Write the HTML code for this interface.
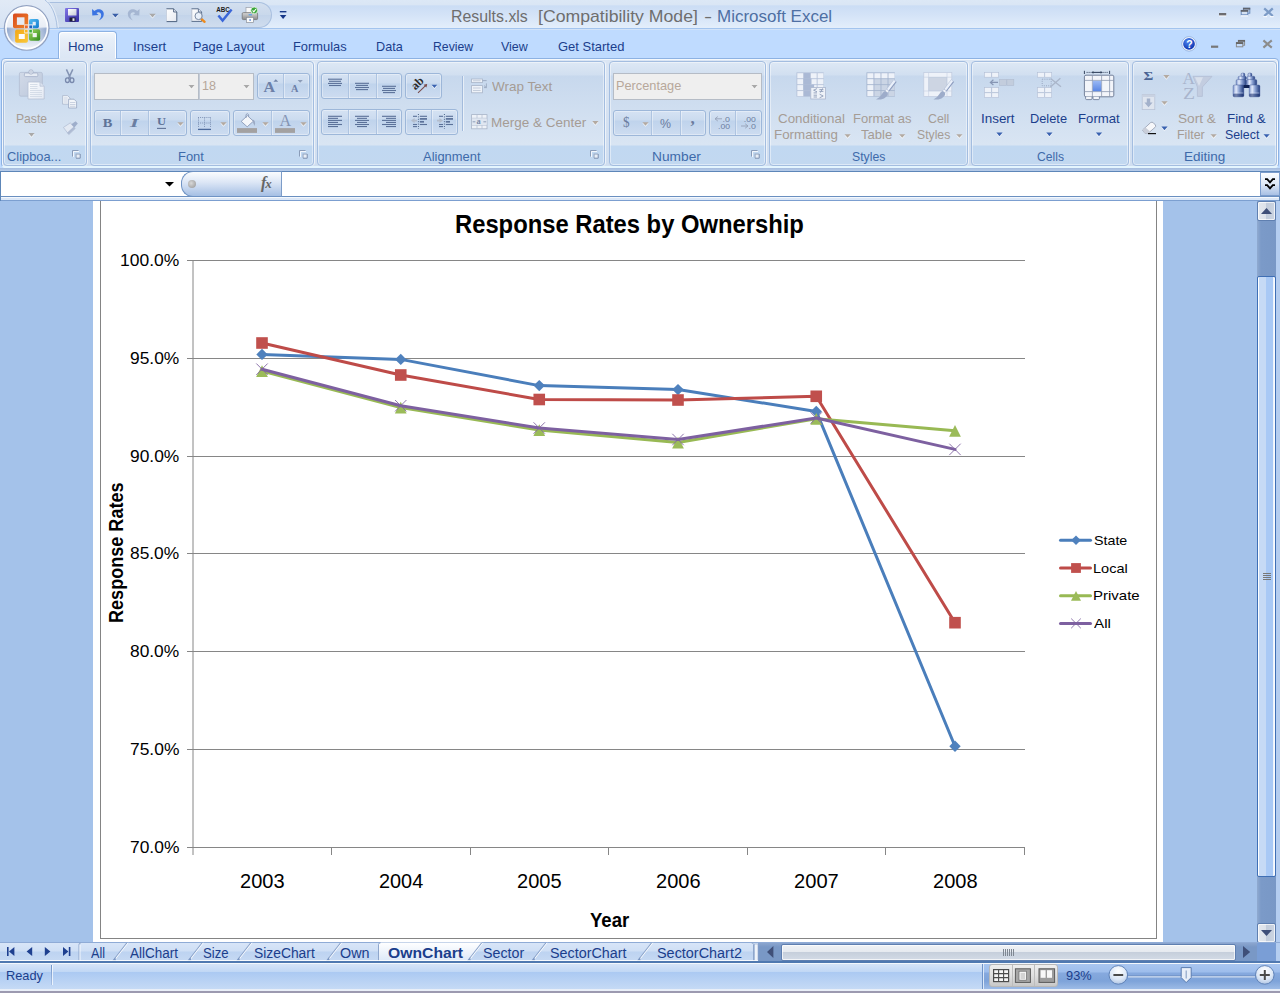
<!DOCTYPE html>
<html><head><meta charset="utf-8"><title>Results.xls [Compatibility Mode] - Microsoft Excel</title>
<style>
*{box-sizing:border-box;margin:0;padding:0}
html,body{width:1280px;height:993px;overflow:hidden}
body{position:relative;background:#bfdbff;font-family:"Liberation Sans",sans-serif;font-size:12px;color:#15428b}
.a{position:absolute}
.t{position:absolute;white-space:nowrap;line-height:1}
svg{position:absolute;overflow:visible}
.grp{position:absolute;top:61px;height:105px;border:1px solid #a3bde0;border-radius:4px;background:linear-gradient(#dde8f5 0,#d1dff0 13px,#c7d8ed 14px,#d9e5f3 83px,#c1d8f1 84px,#c2d8f0 102px);box-shadow:inset 0 0 0 1px rgba(255,255,255,.45), 1px 0 0 rgba(255,255,255,.6)}
.bg{position:absolute;border:1px solid #9db7d9;border-radius:3px;background:linear-gradient(#d5e2f3 0,#cbdbef 9px,#bfd3ec 10px,#cddcf0 100%);box-shadow:inset 0 0 0 1px rgba(255,255,255,.35)}
.dv{position:absolute;width:1px;background:#aec4e1;box-shadow:1px 0 0 rgba(255,255,255,.4)}
.box{position:absolute;border:1px solid #b5bcc6;background:#efefef}
.dl{position:absolute;width:8px;height:8px}
</style></head><body>

<div class="a" style="left:0;top:0;width:1280px;height:29px;background:linear-gradient(#dce8f6 0,#dae6f5 4.5px,#cbddf5 6px,#d4e3f7 15px,#e3eefb 28px)"></div>
<div class="a" style="left:0;top:28px;width:1280px;height:1px;background:#a3c4ee"></div>
<div class="a" style="left:0;top:29px;width:1280px;height:1px;background:#d2e3f9"></div>
<div class="a" style="left:38px;top:2px;width:234px;height:26px;border:1px solid #a8bfdf;border-left:none;border-radius:0 13px 13px 0;background:linear-gradient(#d3dfef 0,#c9d8eb 50%,#c3d4ea 51%,#d0ddee 100%)"></div>
<svg style="left:0;top:0" width="60" height="29" viewBox="0 0 60 29"><defs><linearGradient id="tl" x1="0" y1="0" x2="0" y2="1"><stop offset="0" stop-color="#e1eaf6"/><stop offset="1" stop-color="#d6e3f4"/></linearGradient></defs><path d="M0 0 H45 C50.5 3.5 56 13 57.2 28 H0 Z" fill="url(#tl)"/><path d="M45 0 C50.5 3.5 56 13 57.2 28" fill="none" stroke="#a9c0e0" stroke-width="1"/><path d="M46.2 0 C51.7 3.5 57.2 13 58.4 28" fill="none" stroke="#eef4fb" stroke-width="1" opacity=".8"/></svg>
<svg style="left:2px;top:3px" width="50" height="50" viewBox="0 0 50 50">
<defs><radialGradient id="ob" cx="50%" cy="35%" r="65%"><stop offset="0" stop-color="#ffffff"/><stop offset=".55" stop-color="#eef2f8"/><stop offset="1" stop-color="#c3cfe2"/></radialGradient>
<linearGradient id="ob2" x1="0" y1="0" x2="0" y2="1"><stop offset="0" stop-color="#fdfdfe"/><stop offset=".5" stop-color="#e8edf5"/><stop offset=".52" stop-color="#b9c7dd"/><stop offset="1" stop-color="#f4f7fb"/></linearGradient>
<linearGradient id="o1" x1="0" y1="0" x2="1" y2="1"><stop offset="0" stop-color="#d8481c"/><stop offset="1" stop-color="#f0862a"/></linearGradient>
<linearGradient id="o2" x1="0" y1="0" x2="1" y2="1"><stop offset="0" stop-color="#f3a716"/><stop offset="1" stop-color="#f9c83a"/></linearGradient>
</defs>
<circle cx="24.7" cy="24.9" r="22.3" fill="url(#ob2)" stroke="#93a3c2" stroke-width="1.3"/>
<clipPath id="obc"><rect x="0" y="24.4" width="50" height="14"/></clipPath>
<linearGradient id="ob3" x1="0" y1="0" x2="1" y2="0"><stop offset="0" stop-color="#7f9ac8" stop-opacity=".75"/><stop offset=".3" stop-color="#b9c7dd" stop-opacity=".1"/><stop offset=".7" stop-color="#b9c7dd" stop-opacity=".1"/><stop offset="1" stop-color="#7f9ac8" stop-opacity=".75"/></linearGradient>
<circle cx="24.7" cy="24.9" r="20.4" fill="url(#ob3)" clip-path="url(#obc)"/>
<circle cx="24.7" cy="24.9" r="20.7" fill="none" stroke="#ffffff" stroke-width="1.6" opacity=".9"/>
<linearGradient id="o3" x1="0" y1="0" x2="1" y2="1"><stop offset="0" stop-color="#56c0f4"/><stop offset="1" stop-color="#0f78cc"/></linearGradient>
<linearGradient id="o4" x1="0" y1="0" x2="1" y2="1"><stop offset="0" stop-color="#a0d860"/><stop offset="1" stop-color="#2f8a1c"/></linearGradient>
<rect x="11" y="10.4" width="15.2" height="14.9" rx="1.8" fill="url(#o1)"/><rect x="14.9" y="14.3" width="7.6" height="7.6" fill="#e6eaf2"/>
<rect x="27" y="15.9" width="9.9" height="9.4" rx="1.8" fill="url(#o3)"/><rect x="30.6" y="18.8" width="3.2" height="3.6" fill="#e4edf6"/>
<rect x="13.1" y="26.6" width="12.8" height="13.1" rx="1.8" fill="url(#o2)"/><rect x="16.8" y="31" width="6" height="5" fill="#fcfcfc"/>
<rect x="27" y="26.3" width="11.2" height="11.5" rx="1.8" fill="url(#o4)"/><rect x="30.6" y="30" width="4.2" height="4.2" fill="#f0f4ee"/>
<rect x="22.3" y="21.4" width="4" height="4" fill="#eef0f6"/><rect x="26.8" y="21.4" width="4" height="4" fill="#eef0f6"/><rect x="22.3" y="26.4" width="4" height="4" fill="#f4f4f0"/><rect x="26.8" y="26.4" width="4" height="4" fill="#f0f4ee"/>
<rect x="23" y="22.4" width="2.8" height="2.8" fill="#ee6c28"/><rect x="27.3" y="22.4" width="2.8" height="2.8" fill="#1c62c0"/><rect x="23" y="26.9" width="2.6" height="2.6" fill="#f8b424"/><rect x="27.3" y="26.9" width="2.6" height="2.6" fill="#3cae3c"/>
</svg>
<span class="t" style="left:451.23px;top:9.05px;font-size:16.6px;color:#6e6e6e;transform:scaleX(0.9572);transform-origin:0 0;">Results.xls</span>
<span class="t" style="left:538.16px;top:9.05px;font-size:16.6px;color:#6e6e6e;transform:scaleX(1.0637);transform-origin:0 0;">[Compatibility Mode]</span>
<span class="t" style="left:703.90px;top:9.05px;font-size:16.6px;color:#6e6e6e;transform:scaleX(1.4753);transform-origin:0 0;">-</span>
<span class="t" style="left:716.64px;top:9.05px;font-size:16.6px;color:#4e6fa3;transform:scaleX(1.0231);transform-origin:0 0;">Microsoft Excel</span>
<svg style="left:0;top:0" width="1280" height="60" viewBox="0 0 1280 60">
<defs><linearGradient id="sv" x1="0" y1="0" x2="1" y2="1"><stop offset="0" stop-color="#8478e8"/><stop offset="1" stop-color="#2f2a9c"/></linearGradient>
<linearGradient id="wl" x1="0" y1="0" x2="1" y2="1"><stop offset="0" stop-color="#ffffff"/><stop offset="1" stop-color="#c8ccd8"/></linearGradient>
<linearGradient id="pg" x1="0" y1="0" x2="1" y2="1"><stop offset="0" stop-color="#ffffff"/><stop offset="1" stop-color="#e4e8f0"/></linearGradient>
<linearGradient id="pr" x1="0" y1="0" x2="0" y2="1"><stop offset="0" stop-color="#d8d8d8"/><stop offset="1" stop-color="#8a8a8a"/></linearGradient>
<radialGradient id="hp" cx="40%" cy="30%" r="70%"><stop offset="0" stop-color="#4f86f0"/><stop offset="1" stop-color="#0c34b0"/></radialGradient>
</defs>
<rect x="65" y="8" width="14" height="14" rx="1" fill="url(#sv)"/><rect x="68" y="9" width="8.5" height="6.5" fill="url(#wl)"/><rect x="69.5" y="17.5" width="6" height="4" fill="#1c1c30"/><rect x="72.5" y="18.3" width="2" height="2.6" fill="#e8e8f0"/>
<path d="M92 9 L92.3 15.6 L98.6 15 L96.4 13 C98.5 11.2 101.2 12.6 101.2 15.2 C101.2 17.6 99.6 19.4 98.4 20.6 C101.6 19.4 103.8 17 103.8 14 C103.8 9.6 98.2 7.4 94.4 11 Z" fill="#3b74e2"/>
<polygon points="112.10000000000001,14.75 118.7,14.75 115.4,18.45" fill="#fff" opacity=".8"/><polygon points="112.10000000000001,13.75 118.7,13.75 115.4,17.45" fill="#3a5fa8"/>
<path d="M139.6 9 L139.3 15.6 L133 15 L135.2 13 C133.1 11.2 130.4 12.6 130.4 15.2 C130.4 17.6 132 19.4 133.2 20.6 C130 19.4 127.8 17 127.8 14 C127.8 9.6 133.4 7.4 137.2 11 Z" fill="#a5b6d2"/>
<polygon points="149.2,14.75 155.8,14.75 152.5,18.45" fill="#fff" opacity=".8"/><polygon points="149.2,13.75 155.8,13.75 152.5,17.45" fill="#a9a9a9"/>
<path d="M166.5 8.8 H173.6 L176.8 12 V21.6 H166.5 Z" fill="url(#pg)" stroke="#3d5373" stroke-width="0.9"/><path d="M173.6 8.8 V12 H176.8" fill="#dfe6f0" stroke="#3d5373" stroke-width="0.8"/><path d="M166.5 8.8 V21.6" stroke="#c9d2e0" stroke-width="1"/>
<path d="M191.6 8.8 H198.4 L201.6 12 V21.4 H191.6 Z" fill="url(#pg)" stroke="#4a6080" stroke-width="0.9"/><path d="M198.4 8.8 V12 H201.6" fill="#dfe6f0" stroke="#4a6080" stroke-width="0.8"/><path d="M191.6 8.8 V21.4" stroke="#c9d2e0" stroke-width="1"/>
<line x1="201" y1="18.6" x2="204.6" y2="21.8" stroke="#ee8a1c" stroke-width="2.4" stroke-linecap="round"/><circle cx="198.6" cy="16" r="3.6" fill="#e8f0fa" fill-opacity=".85" stroke="#7c8ca4" stroke-width="1"/>
<text x="216.2" y="12" font-family="Liberation Sans" font-weight="bold" font-size="6.6" fill="#1a1a1a" textLength="13.6" lengthAdjust="spacingAndGlyphs">ABC</text>
<path d="M218.4 15.4 L222.6 20.6 L231.6 9.4" fill="none" stroke="#3a66d8" stroke-width="2.4" stroke-linejoin="miter"/>
<rect x="246" y="7.6" width="7.6" height="6" fill="#fafafa" stroke="#9aa0aa" stroke-width=".7"/><rect x="242.2" y="12.6" width="15.4" height="7" rx="1.2" fill="url(#pr)" stroke="#6c6c6c" stroke-width=".7"/><rect x="246.4" y="17.4" width="7" height="5.2" fill="#fafafa" stroke="#8a909a" stroke-width=".7"/><rect x="248.6" y="14.2" width="3.4" height="1.2" fill="#58a0e8"/><rect x="249.4" y="19.2" width="1.4" height="1.6" fill="#4a80d8"/><circle cx="254.2" cy="10.4" r="3.4" fill="#3aa63a" stroke="#e8f4e8" stroke-width=".8"/><path d="M252.6 10.4 L253.8 11.8 L256 9" fill="none" stroke="#fff" stroke-width="1.1"/>
<rect x="279.8" y="11" width="6.6" height="1.4" fill="#17388a"/><polygon points="279.8,15 286.4,15 283.1,19" fill="#17388a"/>
<rect x="1219" y="14.2" width="7.2" height="2.2" fill="#fff"/><rect x="1219" y="13" width="7.2" height="2.4" fill="#6c6c70"/>
<rect x="1243.4" y="8.2" width="6.4" height="5" fill="none" stroke="#6a8bbb" stroke-width="1"/><rect x="1243" y="7.8" width="7.2" height="1.8" fill="#60646c"/><rect x="1241.2" y="10.4" width="6.6" height="4.4" fill="#d5e2f3" stroke="#6a8bbb" stroke-width="1"/><rect x="1240.8" y="10" width="7.4" height="1.8" fill="#60646c"/><rect x="1241" y="15.4" width="7" height="1" fill="#fff"/>
<path d="M1264.2 8.4 L1272.8 16 M1272.8 8.4 L1264.2 16" stroke="#7c9bc6" stroke-width="2.3"/><rect x="1263.4" y="16.2" width="3.6" height="1" fill="#fff"/><rect x="1270" y="16.2" width="3.6" height="1" fill="#fff"/>
<circle cx="1189" cy="43.9" r="7.2" fill="#fff" stroke="#8aa8d8" stroke-width=".8"/><circle cx="1189" cy="43.9" r="5.9" fill="url(#hp)"/>
<text x="1186.2" y="47.6" font-family="Liberation Sans" font-weight="bold" font-size="10.5" fill="#fff">?</text>
<rect x="1211" y="45.6" width="7.2" height="2.2" fill="#777"/>
<rect x="1238.4" y="40.4" width="6.2" height="4.8" fill="none" stroke="#8a8a8a" stroke-width="1"/><rect x="1238" y="40" width="7" height="1.8" fill="#666"/><rect x="1236.4" y="42.6" width="6.4" height="4.2" fill="#c4dcfc" stroke="#8a8a8a" stroke-width="1"/><rect x="1236" y="42.2" width="7.2" height="1.8" fill="#666"/>
<path d="M1263.4 40.4 L1271.8 47.6 M1271.8 40.4 L1263.4 47.6" stroke="#8c8c8c" stroke-width="2.1"/>
</svg>
<div class="a" style="left:58px;top:31px;width:59px;height:28px;border:1px solid #8db2e3;border-bottom:none;border-radius:4px 4px 0 0;background:linear-gradient(#f3f7fc 0,#e6eef8 8px,#dbe6f4 100%);box-shadow:inset 1px 1px 0 #fff,inset -1px 0 0 #fff"></div>
<span class="t" style="left:68.44px;top:40.13px;font-size:13.2px;color:#1b3e8c;transform:scaleX(1.0061);transform-origin:0 0;">Home</span>
<span class="t" style="left:132.60px;top:40.13px;font-size:13.2px;color:#1b3e8c;transform:scaleX(1.0080);transform-origin:0 0;">Insert</span>
<span class="t" style="left:193.48px;top:40.13px;font-size:13.2px;color:#1b3e8c;transform:scaleX(0.9658);transform-origin:0 0;">Page Layout</span>
<span class="t" style="left:293.47px;top:40.13px;font-size:13.2px;color:#1b3e8c;transform:scaleX(0.9752);transform-origin:0 0;">Formulas</span>
<span class="t" style="left:375.79px;top:40.13px;font-size:13.2px;color:#1b3e8c;transform:scaleX(0.9591);transform-origin:0 0;">Data</span>
<span class="t" style="left:432.82px;top:40.13px;font-size:13.2px;color:#1b3e8c;transform:scaleX(0.9280);transform-origin:0 0;">Review</span>
<span class="t" style="left:501.14px;top:40.13px;font-size:13.2px;color:#1b3e8c;transform:scaleX(0.9465);transform-origin:0 0;">View</span>
<span class="t" style="left:558.15px;top:40.13px;font-size:13.2px;color:#1b3e8c;transform:scaleX(0.9839);transform-origin:0 0;">Get Started</span>
<div class="a" style="left:1px;top:58px;width:1278px;height:110px;border:1px solid #8db2e3;border-radius:4px;background:linear-gradient(#dbe6f4 0,#d0def0 100%);box-shadow:inset 0 0 0 1px rgba(255,255,255,.7)"></div>
<div class="a" style="left:59px;top:58px;width:57px;height:2px;background:#dde7f4"></div>
<div class="grp" style="left:3px;width:84px"></div>
<div class="grp" style="left:90px;width:224px"></div>
<div class="grp" style="left:317px;width:288px"></div>
<div class="grp" style="left:609px;width:157px"></div>
<div class="grp" style="left:769px;width:199px"></div>
<div class="grp" style="left:971px;width:158px"></div>
<div class="grp" style="left:1132px;width:145px"></div>
<span class="t" style="left:7.36px;top:150.83px;font-size:12.6px;color:#3e6aaa;transform:scaleX(1.0200);transform-origin:0 0;">Clipboa...</span>
<span class="t" style="left:178.16px;top:150.83px;font-size:12.6px;color:#3e6aaa;transform:scaleX(1.0278);transform-origin:0 0;">Font</span>
<span class="t" style="left:422.50px;top:150.83px;font-size:12.6px;color:#3e6aaa;transform:scaleX(1.0278);transform-origin:0 0;">Alignment</span>
<span class="t" style="left:652.30px;top:150.83px;font-size:12.6px;color:#3e6aaa;transform:scaleX(1.0903);transform-origin:0 0;">Number</span>
<span class="t" style="left:851.85px;top:150.83px;font-size:12.6px;color:#3e6aaa;transform:scaleX(0.9722);transform-origin:0 0;">Styles</span>
<span class="t" style="left:1036.99px;top:150.83px;font-size:12.6px;color:#3e6aaa;transform:scaleX(0.9642);transform-origin:0 0;">Cells</span>
<span class="t" style="left:1184.22px;top:150.83px;font-size:12.6px;color:#3e6aaa;transform:scaleX(1.0727);transform-origin:0 0;">Editing</span>
<svg style="left:72px;top:150px" width="9" height="9" viewBox="0 0 9 9"><path d="M0.5 6.5 V0.5 H6.5" fill="none" stroke="#8a9cb8" stroke-width="1"/><path d="M1.5 7 V1.5 H7" fill="none" stroke="#fff" stroke-width="1" opacity=".8"/><rect x="3.5" y="3.5" width="4.6" height="4.6" fill="#9aaac4"/><rect x="4.6" y="4.6" width="3.5" height="3.5" fill="#e8eef6"/><path d="M8.2 4 V8.2 H4" fill="none" stroke="#7f92b0" stroke-width="1"/></svg>
<svg style="left:299px;top:150px" width="9" height="9" viewBox="0 0 9 9"><path d="M0.5 6.5 V0.5 H6.5" fill="none" stroke="#8a9cb8" stroke-width="1"/><path d="M1.5 7 V1.5 H7" fill="none" stroke="#fff" stroke-width="1" opacity=".8"/><rect x="3.5" y="3.5" width="4.6" height="4.6" fill="#9aaac4"/><rect x="4.6" y="4.6" width="3.5" height="3.5" fill="#e8eef6"/><path d="M8.2 4 V8.2 H4" fill="none" stroke="#7f92b0" stroke-width="1"/></svg>
<svg style="left:590px;top:150px" width="9" height="9" viewBox="0 0 9 9"><path d="M0.5 6.5 V0.5 H6.5" fill="none" stroke="#8a9cb8" stroke-width="1"/><path d="M1.5 7 V1.5 H7" fill="none" stroke="#fff" stroke-width="1" opacity=".8"/><rect x="3.5" y="3.5" width="4.6" height="4.6" fill="#9aaac4"/><rect x="4.6" y="4.6" width="3.5" height="3.5" fill="#e8eef6"/><path d="M8.2 4 V8.2 H4" fill="none" stroke="#7f92b0" stroke-width="1"/></svg>
<svg style="left:751px;top:150px" width="9" height="9" viewBox="0 0 9 9"><path d="M0.5 6.5 V0.5 H6.5" fill="none" stroke="#8a9cb8" stroke-width="1"/><path d="M1.5 7 V1.5 H7" fill="none" stroke="#fff" stroke-width="1" opacity=".8"/><rect x="3.5" y="3.5" width="4.6" height="4.6" fill="#9aaac4"/><rect x="4.6" y="4.6" width="3.5" height="3.5" fill="#e8eef6"/><path d="M8.2 4 V8.2 H4" fill="none" stroke="#7f92b0" stroke-width="1"/></svg>
<div class="box" style="left:94px;top:73px;width:105px;height:27px"></div>
<div class="box" style="left:199px;top:73px;width:55px;height:27px;border-left-color:#c4ccd8"></div>
<span class="t" style="left:201.86px;top:79.94px;font-size:12px;color:#b5a69a;transform:scaleX(1.0469);transform-origin:0 0;">18</span>
<div class="bg" style="left:257px;top:73px;width:53px;height:26px"></div><div class="dv" style="left:283px;top:74px;height:24px"></div>
<div class="bg" style="left:94px;top:110px;width:93px;height:26px"></div><div class="dv" style="left:120px;top:111px;height:24px"></div><div class="dv" style="left:148px;top:111px;height:24px"></div>
<div class="bg" style="left:190px;top:110px;width:40px;height:26px"></div>
<div class="bg" style="left:233px;top:110px;width:77px;height:26px"></div><div class="dv" style="left:271px;top:111px;height:24px"></div>
<div class="bg" style="left:321px;top:73px;width:81px;height:26px"></div><div class="dv" style="left:348px;top:74px;height:24px"></div><div class="dv" style="left:376px;top:74px;height:24px"></div>
<div class="bg" style="left:405px;top:73px;width:37px;height:26px"></div>
<div class="bg" style="left:321px;top:109px;width:81px;height:26px"></div><div class="dv" style="left:348px;top:110px;height:24px"></div><div class="dv" style="left:376px;top:110px;height:24px"></div>
<div class="bg" style="left:405px;top:109px;width:53px;height:26px"></div><div class="dv" style="left:431px;top:110px;height:24px"></div>
<div class="a" style="left:462px;top:76px;width:1px;height:55px;background:#a3bbdc"></div><div class="a" style="left:463px;top:76px;width:1px;height:55px;background:rgba(255,255,255,.55)"></div>
<span class="t" style="left:492.03px;top:80.63px;font-size:12.6px;color:#a59c95;transform:scaleX(1.0701);transform-origin:0 0;">Wrap Text</span>
<span class="t" style="left:491.32px;top:116.63px;font-size:12.6px;color:#a59c95;transform:scaleX(1.0711);transform-origin:0 0;">Merge &amp; Center</span>
<div class="box" style="left:613px;top:73px;width:149px;height:27px"></div>
<span class="t" style="left:615.58px;top:80.03px;font-size:12.6px;color:#b7a89b;transform:scaleX(1.0137);transform-origin:0 0;">Percentage</span>
<div class="bg" style="left:613px;top:110px;width:93px;height:26px"></div><div class="dv" style="left:651px;top:111px;height:24px"></div><div class="dv" style="left:680px;top:111px;height:24px"></div>
<div class="bg" style="left:709px;top:110px;width:53px;height:26px"></div><div class="dv" style="left:735px;top:111px;height:24px"></div>
<span class="t" style="left:777.83px;top:112.63px;font-size:12.6px;color:#a59c95;transform:scaleX(1.0609);transform-origin:0 0;">Conditional</span>
<span class="t" style="left:774.13px;top:129.43px;font-size:12.6px;color:#a59c95;transform:scaleX(1.0605);transform-origin:0 0;">Formatting</span>
<span class="t" style="left:852.56px;top:112.63px;font-size:12.6px;color:#a59c95;transform:scaleX(1.0335);transform-origin:0 0;">Format as</span>
<span class="t" style="left:861.24px;top:129.43px;font-size:12.6px;color:#a59c95;transform:scaleX(1.0389);transform-origin:0 0;">Table</span>
<span class="t" style="left:927.98px;top:112.63px;font-size:12.6px;color:#a59c95;transform:scaleX(0.9791);transform-origin:0 0;">Cell</span>
<span class="t" style="left:916.75px;top:129.43px;font-size:12.6px;color:#a59c95;transform:scaleX(0.9692);transform-origin:0 0;">Styles</span>
<span class="t" style="left:981.49px;top:112.63px;font-size:12.6px;color:#1b3e8c;transform:scaleX(1.0659);transform-origin:0 0;">Insert</span>
<span class="t" style="left:1030.47px;top:112.63px;font-size:12.6px;color:#1b3e8c;transform:scaleX(1.0171);transform-origin:0 0;">Delete</span>
<span class="t" style="left:1078.35px;top:112.63px;font-size:12.6px;color:#1b3e8c;transform:scaleX(1.0462);transform-origin:0 0;">Format</span>
<span class="t" style="left:1177.78px;top:112.63px;font-size:12.6px;color:#a59c95;transform:scaleX(1.0854);transform-origin:0 0;">Sort &amp;</span>
<span class="t" style="left:1177.40px;top:129.43px;font-size:12.6px;color:#a59c95;transform:scaleX(0.9911);transform-origin:0 0;">Filter</span>
<span class="t" style="left:1227.33px;top:112.63px;font-size:12.6px;color:#1b3e8c;transform:scaleX(1.0601);transform-origin:0 0;">Find &amp;</span>
<span class="t" style="left:1224.84px;top:129.43px;font-size:12.6px;color:#1b3e8c;transform:scaleX(0.9815);transform-origin:0 0;">Select</span>
<span class="t" style="left:15.53px;top:112.53px;font-size:12.6px;color:#a59c95;transform:scaleX(0.9648);transform-origin:0 0;">Paste</span>
<svg style="left:0;top:0" width="1280" height="170" viewBox="0 0 1280 170">
<defs>
<linearGradient id="cb" x1="0" y1="0" x2="1" y2="1"><stop offset="0" stop-color="#d2dae8"/><stop offset="1" stop-color="#bcc8dc"/></linearGradient>
<linearGradient id="pp" x1="0" y1="0" x2="1" y2="1"><stop offset="0" stop-color="#fbfcfe"/><stop offset="1" stop-color="#e3e9f3"/></linearGradient>
<linearGradient id="bn" x1="0" y1="0" x2="0" y2="1"><stop offset="0" stop-color="#b4c4e4"/><stop offset=".5" stop-color="#5a78b8"/><stop offset="1" stop-color="#2c4684"/></linearGradient>
<linearGradient id="fmt" x1="0" y1="0" x2="0" y2="1"><stop offset="0" stop-color="#9ab8f4"/><stop offset="1" stop-color="#5a86e4"/></linearGradient>
</defs>
<rect x="19.4" y="72.4" width="23" height="23.8" rx="1.5" fill="url(#cb)" stroke="#b3bfd3" stroke-width=".8"/>
<rect x="24.4" y="73" width="13.4" height="3.6" rx="1" fill="#e6ebf3" stroke="#a4b0c8" stroke-width=".8"/><circle cx="31" cy="72" r="2.2" fill="#dfe5ef" stroke="#a4b0c8" stroke-width=".8"/><circle cx="31" cy="72" r=".8" fill="#b4c0d4"/>
<path d="M28 82 H40 L44.2 86.2 V99 H28 Z" fill="url(#pp)" stroke="#b5c0d4" stroke-width=".8"/><path d="M40 82 V86.2 H44.2" fill="#dbe2ee" stroke="#b5c0d4" stroke-width=".7"/>
<rect x="30" y="84.10" width="7.5" height="0.8" fill="#cfd7e4"/>
<rect x="30" y="86.10" width="7.5" height="0.8" fill="#cfd7e4"/>
<rect x="30" y="88.10" width="7.5" height="0.8" fill="#cfd7e4"/>
<rect x="30" y="90.10" width="12" height="0.8" fill="#cfd7e4"/>
<rect x="30" y="92.10" width="12" height="0.8" fill="#cfd7e4"/>
<rect x="30" y="94.10" width="12" height="0.8" fill="#cfd7e4"/>
<rect x="30" y="96.10" width="12" height="0.8" fill="#cfd7e4"/>
<polygon points="28.4,133.95000000000002 34.6,133.95000000000002 31.5,137.65" fill="#fff" opacity=".8"/><polygon points="28.4,132.95000000000002 34.6,132.95000000000002 31.5,136.65" fill="#a9a9a9"/>
<path d="M66.4 69.4 L70.6 78.4 M72.8 69.4 L68.6 78.4" stroke="#8494b4" stroke-width="1.5" fill="none"/><ellipse cx="67.4" cy="80.2" rx="1.9" ry="2.3" fill="none" stroke="#7888ac" stroke-width="1.3"/><ellipse cx="72" cy="80.2" rx="1.9" ry="2.3" fill="none" stroke="#7888ac" stroke-width="1.3"/>
<path d="M62.6 95.6 H67.6 L70 98 V104.2 H62.6 Z" fill="#eef2f8" stroke="#a9b6cc" stroke-width=".8"/><path d="M68.6 99.2 H74 L76.6 101.8 V108 H68.6 Z" fill="#f3f6fa" stroke="#97a6c0" stroke-width=".8"/>
<rect x="63.8" y="97.65" width="3.799999999999997" height="0.7" fill="#c3ccdc"/>
<rect x="63.8" y="99.65" width="3.799999999999997" height="0.7" fill="#c3ccdc"/>
<rect x="63.8" y="101.65" width="3.799999999999997" height="0.7" fill="#c3ccdc"/>
<rect x="70" y="102.25" width="5.400000000000006" height="0.7" fill="#b8c3d6"/>
<rect x="70" y="104.05" width="5.400000000000006" height="0.7" fill="#b8c3d6"/>
<rect x="70" y="105.85" width="5.400000000000006" height="0.7" fill="#b8c3d6"/>
<path d="M63.4 127.4 L70.4 122.8 L75.2 128.6 L68.8 134.6 Z" fill="#e3e9f3" stroke="#b4c0d6" stroke-width=".8"/><path d="M71.4 124.2 L75.6 121.2 L77.8 123.6 L74.4 127.4 Z" fill="#9eaecb"/><path d="M68.8 134.6 L75.2 128.6 L73.6 126.8 L67 132.8 Z" fill="#aebbd3"/>
<polygon points="188.5,85.95 194.5,85.95 191.5,89.45" fill="#fff" opacity=".8"/><polygon points="188.5,84.95 194.5,84.95 191.5,88.45" fill="#a9a9a9"/>
<polygon points="243.5,85.95 249.5,85.95 246.5,89.45" fill="#fff" opacity=".8"/><polygon points="243.5,84.95 249.5,84.95 246.5,88.45" fill="#a9a9a9"/>
<text x="263.6" y="92" font-family="Liberation Serif" font-weight="bold" font-size="15.6" fill="#6c80a8" textLength="11.6" lengthAdjust="spacingAndGlyphs">A</text>
<polygon points="273.4,81.8 278.2,81.8 275.8,79.2" fill="#7084a8"/>
<text x="291" y="92" font-family="Liberation Serif" font-weight="bold" font-size="10.6" fill="#6c80a8" textLength="7.4" lengthAdjust="spacingAndGlyphs">A</text>
<polygon points="297.6,80 302.8,80 300.2,82.8" fill="#8c9cb8"/>
<text x="102.8" y="126.8" font-family="Liberation Serif" font-weight="bold" font-size="13" fill="#5f7398" textLength="9.6" lengthAdjust="spacingAndGlyphs">B</text>
<text x="130" y="126.8" font-family="Liberation Serif" font-weight="bold" font-style="italic" font-size="13" fill="#6a7ea2" textLength="8.6" lengthAdjust="spacingAndGlyphs">I</text>
<text x="157" y="125.2" font-family="Liberation Serif" font-weight="bold" font-size="11" fill="#5f7398" textLength="9" lengthAdjust="spacingAndGlyphs">U</text>
<rect x="157" y="127.85" width="9" height="1.1" fill="#5f7398"/>
<polygon points="177.4,123.15 183.6,123.15 180.5,126.85" fill="#fff" opacity=".8"/><polygon points="177.4,122.15 183.6,122.15 180.5,125.85" fill="#b3aaa2"/>
<line x1="198.5" y1="117.5" x2="198.5" y2="128" stroke="#7f93b6" stroke-width="1" stroke-dasharray="1 1.1"/>
<line x1="204.5" y1="117.5" x2="204.5" y2="128" stroke="#7f93b6" stroke-width="1" stroke-dasharray="1 1.1"/>
<line x1="210.5" y1="117.5" x2="210.5" y2="128" stroke="#7f93b6" stroke-width="1" stroke-dasharray="1 1.1"/>
<line x1="198" y1="117.5" x2="211" y2="117.5" stroke="#7f93b6" stroke-width="1" stroke-dasharray="1 1.1"/>
<line x1="198" y1="123" x2="211" y2="123" stroke="#7f93b6" stroke-width="1" stroke-dasharray="1 1.1"/>
<rect x="198" y="128.75" width="13" height="1.3" fill="#4c6a9c"/>
<polygon points="220.4,123.15 226.6,123.15 223.5,126.85" fill="#fff" opacity=".8"/><polygon points="220.4,122.15 226.6,122.15 223.5,125.85" fill="#b3aaa2"/>
<path d="M241.2 121.4 L247.4 115.6 L253.4 121.2 L247.2 126.8 Z" fill="#f4f6fa" stroke="#8a9ab8" stroke-width=".9"/><path d="M246 118 V114.6 Q247.4 112.8 248.6 114.6 V117" fill="none" stroke="#8a9ab8" stroke-width=".9"/><path d="M252.6 119.6 Q256 120.6 254.6 126 Q252.8 123 252.6 119.6Z" fill="#9aa8c2"/>
<rect x="237" y="128.1" width="20" height="4.8" fill="#a3a1a1"/>
<polygon points="262.4,123.15 268.6,123.15 265.5,126.85" fill="#fff" opacity=".8"/><polygon points="262.4,122.15 268.6,122.15 265.5,125.85" fill="#b3aaa2"/>
<text x="279.6" y="126" font-family="Liberation Serif" font-size="16" fill="#8494b4" textLength="11.6" lengthAdjust="spacingAndGlyphs">A</text>
<rect x="275" y="128.1" width="20" height="4.8" fill="#a3a1a1"/>
<polygon points="300.4,123.15 306.6,123.15 303.5,126.85" fill="#fff" opacity=".8"/><polygon points="300.4,122.15 306.6,122.15 303.5,125.85" fill="#b3aaa2"/>
<rect x="328" y="78.65" width="14" height="1.1" fill="#5b7199"/>
<rect x="329" y="80.75" width="12" height="1.1" fill="#5b7199"/>
<rect x="328" y="82.85" width="14" height="1.1" fill="#5b7199"/>
<rect x="329" y="84.95" width="12" height="1.1" fill="#5b7199"/>
<rect x="355" y="82.75" width="14" height="1.1" fill="#5b7199"/>
<rect x="356" y="84.85" width="12" height="1.1" fill="#5b7199"/>
<rect x="355" y="86.95" width="14" height="1.1" fill="#5b7199"/>
<rect x="356" y="89.05" width="12" height="1.1" fill="#5b7199"/>
<rect x="382" y="85.75" width="14" height="1.1" fill="#5b7199"/>
<rect x="383" y="87.85" width="12" height="1.1" fill="#5b7199"/>
<rect x="382" y="89.95" width="14" height="1.1" fill="#5b7199"/>
<rect x="383" y="92.05" width="12" height="1.1" fill="#5b7199"/>
<rect x="328" y="115.75" width="14" height="1.1" fill="#5b7199"/>
<rect x="355" y="115.75" width="14" height="1.1" fill="#5b7199"/>
<rect x="382" y="115.75" width="14" height="1.1" fill="#5b7199"/>
<rect x="328" y="117.80" width="10" height="1.1" fill="#5b7199"/>
<rect x="357" y="117.80" width="10" height="1.1" fill="#5b7199"/>
<rect x="386" y="117.80" width="10" height="1.1" fill="#5b7199"/>
<rect x="328" y="119.85" width="14" height="1.1" fill="#5b7199"/>
<rect x="355" y="119.85" width="14" height="1.1" fill="#5b7199"/>
<rect x="382" y="119.85" width="14" height="1.1" fill="#5b7199"/>
<rect x="328" y="121.90" width="10" height="1.1" fill="#5b7199"/>
<rect x="357" y="121.90" width="10" height="1.1" fill="#5b7199"/>
<rect x="386" y="121.90" width="10" height="1.1" fill="#5b7199"/>
<rect x="328" y="123.95" width="14" height="1.1" fill="#5b7199"/>
<rect x="355" y="123.95" width="14" height="1.1" fill="#5b7199"/>
<rect x="382" y="123.95" width="14" height="1.1" fill="#5b7199"/>
<rect x="328" y="126.00" width="10" height="1.1" fill="#5b7199"/>
<rect x="357" y="126.00" width="10" height="1.1" fill="#5b7199"/>
<rect x="386" y="126.00" width="10" height="1.1" fill="#5b7199"/>
<text transform="translate(415.6,90.6) rotate(-45)" font-family="Liberation Serif" font-weight="bold" font-size="12" fill="#2a2a2a">ab</text>
<path d="M418 92.8 L426.6 84.6" stroke="#7a4c4c" stroke-width="1.1"/><path d="M427.2 84 L423.6 84.8 L426.4 87.6 Z" fill="#7a4c4c"/>
<polygon points="431.59999999999997,85.75 437.2,85.75 434.4,89.05000000000001" fill="#fff" opacity=".8"/><polygon points="431.59999999999997,84.75 437.2,84.75 434.4,88.05000000000001" fill="#3a62b0"/>
<line x1="418.4" y1="114" x2="418.4" y2="129" stroke="#4c6488" stroke-width="1" stroke-dasharray="1 1.4"/>
<rect x="419.8" y="115.75" width="7.199999999999989" height="1.1" fill="#5b7199"/>
<rect x="419.8" y="118.05" width="7.199999999999989" height="1.7" fill="#5b7199"/>
<rect x="419.8" y="120.95" width="4.199999999999989" height="1.7" fill="#5b7199"/>
<rect x="419.8" y="123.95" width="7.199999999999989" height="1.1" fill="#5b7199"/>
<rect x="413" y="115.75" width="4" height="1.1" fill="#5b7199"/>
<rect x="413" y="123.95" width="4" height="1.1" fill="#5b7199"/>
<rect x="413" y="126.05" width="4" height="1.1" fill="#5b7199"/>
<path d="M411 120.6 L414.6 118 V119.8 H417 V121.4 H414.6 V123.2 Z" fill="#b3bccb"/>
<line x1="444.4" y1="114" x2="444.4" y2="129" stroke="#4c6488" stroke-width="1" stroke-dasharray="1 1.4"/>
<rect x="445.8" y="115.75" width="7.199999999999989" height="1.1" fill="#5b7199"/>
<rect x="445.8" y="118.05" width="7.199999999999989" height="1.7" fill="#5b7199"/>
<rect x="445.8" y="120.95" width="4.199999999999989" height="1.7" fill="#5b7199"/>
<rect x="445.8" y="123.95" width="7.199999999999989" height="1.1" fill="#5b7199"/>
<rect x="439" y="115.75" width="4" height="1.1" fill="#5b7199"/>
<rect x="439" y="123.95" width="4" height="1.1" fill="#5b7199"/>
<rect x="439" y="126.05" width="4" height="1.1" fill="#5b7199"/>
<path d="M443 120.6 L439.4 118 V119.8 H437 V121.4 H439.4 V123.2 Z" fill="#b3bccb"/>
<rect x="471.6" y="79" width="10.8" height="3.6" fill="#eef2f8" stroke="#a8b4c8" stroke-width=".8"/><rect x="471.6" y="85.6" width="10.8" height="7.2" fill="#eef2f8" stroke="#a8b4c8" stroke-width=".8"/>
<rect x="473" y="80.40" width="7.600000000000023" height="0.8" fill="#b9c3d4"/>
<rect x="473" y="87.60" width="7.600000000000023" height="0.8" fill="#b9c3d4"/>
<rect x="473" y="90.00" width="7.600000000000023" height="0.8" fill="#b9c3d4"/>
<path d="M482.4 80.6 H486.6 M486.4 83.4 V87.6 L484 85.6 M486.4 87.6 H484" fill="none" stroke="#9aa8c0" stroke-width=".9"/>
<rect x="471.6" y="114.6" width="15.4" height="14.2" fill="#eef2f8" stroke="#a8b4c8" stroke-width=".8"/>
<rect x="471.6" y="117.80" width="15.399999999999977" height="0.8" fill="#b6c1d4"/>
<rect x="471.6" y="124.80" width="15.399999999999977" height="0.8" fill="#b6c1d4"/>
<line x1="477" y1="114.6" x2="477" y2="118.2" stroke="#b6c1d4" stroke-width=".8"/><line x1="482" y1="114.6" x2="482" y2="118.2" stroke="#b6c1d4" stroke-width=".8"/><line x1="477" y1="125.2" x2="477" y2="128.8" stroke="#b6c1d4" stroke-width=".8"/><line x1="482" y1="125.2" x2="482" y2="128.8" stroke="#b6c1d4" stroke-width=".8"/>
<rect x="472" y="118.6" width="14.6" height="6.2" fill="#dfe6f1"/>
<text x="476.6" y="124.4" font-family="Liberation Serif" font-weight="bold" font-size="8.4" fill="#7a8cab">a</text>
<path d="M472.6 121.8 H475.4 M483.4 121.8 H486.2" stroke="#8f9fba" stroke-width="1"/>
<polygon points="592.3,121.95 598.5,121.95 595.4,125.64999999999999" fill="#fff" opacity=".8"/><polygon points="592.3,120.95 598.5,120.95 595.4,124.64999999999999" fill="#b3aaa2"/>
<polygon points="751.5,85.95 757.5,85.95 754.5,89.45" fill="#fff" opacity=".8"/><polygon points="751.5,84.95 757.5,84.95 754.5,88.45" fill="#a9a9a9"/>
<text x="623" y="127" font-family="Liberation Serif" font-size="14" fill="#6a7c9e" textLength="6.6" lengthAdjust="spacingAndGlyphs">$</text>
<polygon points="642.4,123.15 648.6,123.15 645.5,126.85" fill="#fff" opacity=".8"/><polygon points="642.4,122.15 648.6,122.15 645.5,125.85" fill="#b3aaa2"/>
<text x="660" y="128.2" font-family="Liberation Sans" font-size="13.6" fill="#6a7c9e" textLength="11" lengthAdjust="spacingAndGlyphs">%</text>
<text x="690.4" y="124.2" font-family="Liberation Serif" font-weight="bold" font-size="17" fill="#6a7c9e">,</text>
<text x="722.6" y="121.6" font-family="Liberation Sans" font-size="7.6" fill="#6a7c9e" textLength="7.4" lengthAdjust="spacingAndGlyphs">.0</text>
<text x="718" y="128.8" font-family="Liberation Sans" font-size="7.6" fill="#6a7c9e" textLength="12" lengthAdjust="spacingAndGlyphs">.00</text>
<path d="M715 118.8 H722 M715 118.8 L717.8 116.6 M715 118.8 L717.8 121" fill="none" stroke="#9aa6bc" stroke-width="1"/>
<text x="743.8" y="121.6" font-family="Liberation Sans" font-size="7.6" fill="#6a7c9e" textLength="12" lengthAdjust="spacingAndGlyphs">.00</text>
<text x="748.6" y="128.8" font-family="Liberation Sans" font-size="7.6" fill="#6a7c9e" textLength="7.4" lengthAdjust="spacingAndGlyphs">.0</text>
<path d="M741 126 H748 M748 126 L745.2 123.8 M748 126 L745.2 128.2" fill="none" stroke="#9aa6bc" stroke-width="1"/>
</svg>
<svg style="left:0;top:0" width="1280" height="170" viewBox="0 0 1280 170">
<rect x="796.5" y="72.4" width="27.2" height="24.2" fill="#b3c0d8"/><rect x="797.30" y="73.20" width="5.9" height="5.1" fill="#eef2f9" stroke="none" stroke-width=".6"/><rect x="804.05" y="73.20" width="5.9" height="5.1" fill="#aab9d5" stroke="none" stroke-width=".6"/><rect x="810.80" y="73.20" width="5.9" height="5.1" fill="#eef2f9" stroke="none" stroke-width=".6"/><rect x="817.55" y="73.20" width="5.9" height="5.1" fill="#eef2f9" stroke="none" stroke-width=".6"/><rect x="797.30" y="79.15" width="5.9" height="5.1" fill="#eef2f9" stroke="none" stroke-width=".6"/><rect x="804.05" y="79.15" width="5.9" height="5.1" fill="#aab9d5" stroke="none" stroke-width=".6"/><rect x="810.80" y="79.15" width="5.9" height="5.1" fill="#eef2f9" stroke="none" stroke-width=".6"/><rect x="817.55" y="79.15" width="5.9" height="5.1" fill="#eef2f9" stroke="none" stroke-width=".6"/><rect x="797.30" y="85.10" width="5.9" height="5.1" fill="#eef2f9" stroke="none" stroke-width=".6"/><rect x="804.05" y="85.10" width="5.9" height="5.1" fill="#aab9d5" stroke="none" stroke-width=".6"/><rect x="810.80" y="85.10" width="5.9" height="5.1" fill="#eef2f9" stroke="none" stroke-width=".6"/><rect x="817.55" y="85.10" width="5.9" height="5.1" fill="#eef2f9" stroke="none" stroke-width=".6"/><rect x="797.30" y="91.05" width="5.9" height="5.1" fill="#eef2f9" stroke="none" stroke-width=".6"/><rect x="804.05" y="91.05" width="5.9" height="5.1" fill="#aab9d5" stroke="none" stroke-width=".6"/><rect x="810.80" y="91.05" width="5.9" height="5.1" fill="#eef2f9" stroke="none" stroke-width=".6"/><rect x="817.55" y="91.05" width="5.9" height="5.1" fill="#eef2f9" stroke="none" stroke-width=".6"/>
<rect x="803.5" y="78.5" width="8" height="5.5" fill="#aab9d5"/><rect x="803.5" y="84.6" width="10.6" height="5.5" fill="#aab9d5"/>
<rect x="810.8" y="87.4" width="14.6" height="11.6" fill="#eef2f8" stroke="#a9b5cc" stroke-width=".8"/>
<path d="M817 88.6 L813.6 90.2 L817 91.8 M813.6 92.9 H817 M819.4 89.6 H823.4 M819.4 91.4 H823.4 M822.6 88.4 L820.4 92.6 M813.6 95.2 H817 M813.6 97 H817 M819.6 94.2 L823.2 96 L819.6 97.8" fill="none" stroke="#8e9db9" stroke-width=".9"/>
<rect x="866.5" y="72.4" width="28.3" height="24.2" fill="#a3b3ce"/><rect x="867.30" y="73.20" width="6.2" height="5.1" fill="#eef2f9" stroke="none" stroke-width=".6"/><rect x="874.35" y="73.20" width="6.2" height="5.1" fill="#eef2f9" stroke="none" stroke-width=".6"/><rect x="881.40" y="73.20" width="6.2" height="5.1" fill="#eef2f9" stroke="none" stroke-width=".6"/><rect x="888.45" y="73.20" width="6.2" height="5.1" fill="#eef2f9" stroke="none" stroke-width=".6"/><rect x="867.30" y="79.15" width="6.2" height="5.1" fill="#eef2f9" stroke="none" stroke-width=".6"/><rect x="874.35" y="79.15" width="6.2" height="5.1" fill="#cbd5e5" stroke="none" stroke-width=".6"/><rect x="881.40" y="79.15" width="6.2" height="5.1" fill="#cbd5e5" stroke="none" stroke-width=".6"/><rect x="888.45" y="79.15" width="6.2" height="5.1" fill="#cbd5e5" stroke="none" stroke-width=".6"/><rect x="867.30" y="85.10" width="6.2" height="5.1" fill="#eef2f9" stroke="none" stroke-width=".6"/><rect x="874.35" y="85.10" width="6.2" height="5.1" fill="#cbd5e5" stroke="none" stroke-width=".6"/><rect x="881.40" y="85.10" width="6.2" height="5.1" fill="#cbd5e5" stroke="none" stroke-width=".6"/><rect x="888.45" y="85.10" width="6.2" height="5.1" fill="#cbd5e5" stroke="none" stroke-width=".6"/><rect x="867.30" y="91.05" width="6.2" height="5.1" fill="#eef2f9" stroke="none" stroke-width=".6"/><rect x="874.35" y="91.05" width="6.2" height="5.1" fill="#cbd5e5" stroke="none" stroke-width=".6"/><rect x="881.40" y="91.05" width="6.2" height="5.1" fill="#cbd5e5" stroke="none" stroke-width=".6"/><rect x="888.45" y="91.05" width="6.2" height="5.1" fill="#cbd5e5" stroke="none" stroke-width=".6"/>
<path d="M893.8 79.6 L896.2 81.6 L889.0 91.0 L886.6 89.2 Z" fill="#eaf0fa" stroke="#a9b6d0" stroke-width=".5"/><path d="M896.2 81.6 L889.0 91.0" stroke="#8e9ec0" stroke-width="1.1"/><path d="M886.6 89.2 L889.0 91.0 L887.6 92.8 L885.0 91.0 Z" fill="#f2f5fa" stroke="#a9b6d0" stroke-width=".5"/><path d="M885.0 91.0 L887.6 92.8 Q888.6 96.0 884.0 98.4 Q880.0 100.0 876.0 99.5 Q880.5 97.0 882.0 94.0 Q883.0 92.0 885.0 91.0 Z" fill="#9dacca"/>
<rect x="923.8" y="72.6" width="28" height="23.8" fill="#eef2f9" stroke="#c0cbde" stroke-width=".7"/><rect x="928.8" y="77.4" width="18" height="13.4" fill="#cdd5e3" stroke="#bcc7da" stroke-width=".6"/>
<path d="M928.6 72.6 V96.4 M947 72.6 V96.4 M923.8 77.2 H951.8 M923.8 91 H951.8" stroke="#c4cee0" stroke-width=".6"/>
<path d="M951.2 79.6 L953.6 81.6 L946.4 91.0 L944.0 89.2 Z" fill="#eaf0fa" stroke="#a9b6d0" stroke-width=".5"/><path d="M953.6 81.6 L946.4 91.0" stroke="#8e9ec0" stroke-width="1.1"/><path d="M944.0 89.2 L946.4 91.0 L945.0 92.8 L942.4 91.0 Z" fill="#f2f5fa" stroke="#a9b6d0" stroke-width=".5"/><path d="M942.4 91.0 L945.0 92.8 Q946.0 96.0 941.4 98.4 Q937.4 100.0 933.4 99.5 Q937.9 97.0 939.4 94.0 Q940.4 92.0 942.4 91.0 Z" fill="#9dacca"/>
<polygon points="844.5,135.15 850.7,135.15 847.6,138.85" fill="#fff" opacity=".8"/><polygon points="844.5,134.15 850.7,134.15 847.6,137.85" fill="#b3aaa2"/>
<polygon points="899.1,135.15 905.3000000000001,135.15 902.2,138.85" fill="#fff" opacity=".8"/><polygon points="899.1,134.15 905.3000000000001,134.15 902.2,137.85" fill="#b3aaa2"/>
<polygon points="956.3,135.15 962.5,135.15 959.4,138.85" fill="#fff" opacity=".8"/><polygon points="956.3,134.15 962.5,134.15 959.4,137.85" fill="#b3aaa2"/>
<rect x="984.40" y="72.40" width="6.9" height="4.8" fill="#eef2f9" stroke="#b3bfd5" stroke-width=".6"/><rect x="991.80" y="72.40" width="6.9" height="4.8" fill="#eef2f9" stroke="#b3bfd5" stroke-width=".6"/>
<rect x="999.50" y="79.40" width="6.9" height="6" fill="#c3cddd" stroke="#b0bccf" stroke-width=".6"/><rect x="1006.90" y="79.40" width="6.9" height="6" fill="#c3cddd" stroke="#b0bccf" stroke-width=".6"/>
<rect x="984.40" y="87.60" width="6.9" height="4.7" fill="#eef2f9" stroke="#b3bfd5" stroke-width=".6"/><rect x="991.80" y="87.60" width="6.9" height="4.7" fill="#eef2f9" stroke="#b3bfd5" stroke-width=".6"/><rect x="984.40" y="92.80" width="6.9" height="4.7" fill="#eef2f9" stroke="#b3bfd5" stroke-width=".6"/><rect x="991.80" y="92.80" width="6.9" height="4.7" fill="#eef2f9" stroke="#b3bfd5" stroke-width=".6"/>
<path d="M998 82.4 H990.6 M993.4 79.8 L990.4 82.4 L993.4 85" fill="none" stroke="#8796b4" stroke-width="1.2"/>
<rect x="1037.40" y="72.40" width="6.9" height="4.8" fill="#eef2f9" stroke="#b3bfd5" stroke-width=".6"/><rect x="1044.80" y="72.40" width="6.9" height="4.8" fill="#eef2f9" stroke="#b3bfd5" stroke-width=".6"/>
<rect x="1037.40" y="87.60" width="6.9" height="4.7" fill="#eef2f9" stroke="#b3bfd5" stroke-width=".6"/><rect x="1044.80" y="87.60" width="6.9" height="4.7" fill="#eef2f9" stroke="#b3bfd5" stroke-width=".6"/><rect x="1037.40" y="92.80" width="6.9" height="4.7" fill="#eef2f9" stroke="#b3bfd5" stroke-width=".6"/><rect x="1044.80" y="92.80" width="6.9" height="4.7" fill="#eef2f9" stroke="#b3bfd5" stroke-width=".6"/>
<rect x="1042.2" y="79.2" width="9" height="6.6" fill="none" stroke="#98a6c0" stroke-width="1" stroke-dasharray="1 1.2"/>
<path d="M1050.6 78.4 L1061 86.8 M1060.4 78.2 L1050.4 87" stroke="#aab6ca" stroke-width="1.3"/>
<path d="M1084.4 70.8 V74 M1109.6 70.8 V74" stroke="#35455f" stroke-width="1"/><path d="M1086.6 72.4 H1091.4 M1102.6 72.4 H1107.6" stroke="#35455f" stroke-width="1" stroke-dasharray="1 1"/><path d="M1092 72.4 H1102" stroke="#35455f" stroke-width="1.1"/><path d="M1091.4 72.4 L1093.4 71 V73.8 Z M1102.6 72.4 L1100.6 71 V73.8 Z" fill="#35455f"/>
<rect x="1084.4" y="75.2" width="29.4" height="21.6" rx="1.6" fill="#f3f5fa" stroke="#66748f" stroke-width=".9"/>
<path d="M1092.4 75.2 V96.8 M1101.6 75.2 V96.8 M1109.6 75.2 V96.8 M1084.4 80.4 H1113.8 M1084.4 91.6 H1113.8" stroke="#8d99b0" stroke-width=".8"/>
<rect x="1092.8" y="80.8" width="8.4" height="10.4" fill="url(#fmt)"/>
<path d="M1085.6 96.8 V98.6 Q1085.6 99.6 1086.6 99.6 H1091 Q1092 99.6 1092 98.6 V96.8 M1093 96.8 V98.6 Q1093 99.6 1094 99.6 H1098.4 Q1099.4 99.6 1099.4 98.6 V96.8" fill="#f3f5fa" stroke="#66748f" stroke-width=".8"/>
<polygon points="996.4,133.55 1002.6,133.55 999.5,137.25" fill="#fff" opacity=".8"/><polygon points="996.4,132.55 1002.6,132.55 999.5,136.25" fill="#3a62b0"/>
<polygon points="1046.3000000000002,133.55 1052.5,133.55 1049.4,137.25" fill="#fff" opacity=".8"/><polygon points="1046.3000000000002,132.55 1052.5,132.55 1049.4,136.25" fill="#3a62b0"/>
<polygon points="1095.9,133.55 1102.1,133.55 1099,137.25" fill="#fff" opacity=".8"/><polygon points="1095.9,132.55 1102.1,132.55 1099,136.25" fill="#3a62b0"/>
<text x="1143.6" y="79.8" font-family="Liberation Serif" font-weight="bold" font-size="13.4" fill="#4a6494" textLength="9.8" lengthAdjust="spacingAndGlyphs">Σ</text>
<polygon points="1163.3000000000002,75.95 1169.5,75.95 1166.4,79.64999999999999" fill="#fff" opacity=".8"/><polygon points="1163.3000000000002,74.95 1169.5,74.95 1166.4,78.64999999999999" fill="#b3aaa2"/>
<rect x="1142.2" y="94.6" width="12.6" height="15" fill="#dfe5ef" stroke="#b8c3d6" stroke-width=".8"/><rect x="1142.2" y="94.6" width="12.6" height="2.4" fill="#c9d2e2"/><path d="M1146.8 98.6 H1150.2 V102.6 H1152.6 L1148.5 107.2 L1144.4 102.6 H1146.8 Z" fill="#a3b1cb"/>
<polygon points="1161.4,102.15 1167.6,102.15 1164.5,105.85" fill="#fff" opacity=".8"/><polygon points="1161.4,101.15 1167.6,101.15 1164.5,104.85" fill="#b3aaa2"/>
<path d="M1142.6 130 L1150.6 122.6 Q1152 121.6 1153.4 122.8 L1155.4 125 Q1156.2 126.4 1155 127.4 L1148 133.4 H1145 Z" fill="#f6f7fa" stroke="#9099ad" stroke-width=".8"/><path d="M1142.6 130 L1145.4 127.4 L1150.2 131.6 L1148 133.4 H1145 Z" fill="#c9ced9"/><path d="M1148 133.6 H1156" stroke="#111" stroke-width="1.2"/>
<polygon points="1161.4,127.55000000000001 1167.6,127.55000000000001 1164.5,131.25" fill="#fff" opacity=".8"/><polygon points="1161.4,126.55000000000001 1167.6,126.55000000000001 1164.5,130.25" fill="#3a62b0"/>
<text x="1182.6" y="83.6" font-family="Liberation Serif" font-size="17.6" fill="#a9b5cd" textLength="12.4" lengthAdjust="spacingAndGlyphs">A</text>
<text x="1183" y="98.6" font-family="Liberation Serif" font-size="17.6" fill="#a9b5cd" textLength="12" lengthAdjust="spacingAndGlyphs">Z</text>
<path d="M1193 76.4 H1212 L1202.4 87 V96.4 H1197.4 V87 Z" fill="#c3cde0" stroke="#b0bcd2" stroke-width=".7"/><path d="M1195 77.2 H1203 L1199 86 Z" fill="#d9e0ec"/>
<polygon points="1210.5,135.15 1216.6999999999998,135.15 1213.6,138.85" fill="#fff" opacity=".8"/><polygon points="1210.5,134.15 1216.6999999999998,134.15 1213.6,137.85" fill="#b3aaa2"/>
<defs><linearGradient id="bh" x1="0" y1="0" x2="1" y2="0"><stop offset="0" stop-color="#7f96cc"/><stop offset=".28" stop-color="#e3ebfc"/><stop offset=".55" stop-color="#8ea4d4"/><stop offset="1" stop-color="#1f3a7c"/></linearGradient></defs>
<rect x="1241" y="73.1" width="3.8" height="3.5" rx="1.3" fill="url(#bh)" stroke="#3a5290" stroke-width=".4"/>
<rect x="1247.9" y="73.1" width="4.0" height="3.5" rx="1.3" fill="url(#bh)" stroke="#3a5290" stroke-width=".4"/>
<rect x="1238.1" y="76.3" width="8.2" height="3.6" rx="1.3" fill="url(#bh)" stroke="#3a5290" stroke-width=".4"/>
<rect x="1247" y="76.3" width="7.8" height="3.6" rx="1.3" fill="url(#bh)" stroke="#3a5290" stroke-width=".4"/>
<rect x="1236.1" y="79.6" width="10.4" height="5.8" rx="1.3" fill="url(#bh)" stroke="#3a5290" stroke-width=".4"/>
<rect x="1246.8" y="79.6" width="10.0" height="5.8" rx="1.3" fill="url(#bh)" stroke="#3a5290" stroke-width=".4"/>
<rect x="1233.1" y="85" width="10.7" height="11.8" rx="1.3" fill="url(#bh)" stroke="#3a5290" stroke-width=".4"/>
<rect x="1249.2" y="85" width="10.7" height="11.8" rx="1.3" fill="url(#bh)" stroke="#3a5290" stroke-width=".4"/>
<rect x="1243.6" y="85" width="5.8" height="3" fill="#0f2152"/>
<rect x="1233.1" y="93.4" width="10.7" height="3.4" rx="1.3" fill="#1a2f6c" opacity=".55"/>
<rect x="1233.6999999999998" y="92.6" width="9.5" height=".8" fill="#dfe8fb" opacity=".6"/>
<rect x="1249.2" y="93.4" width="10.7" height="3.4" rx="1.3" fill="#1a2f6c" opacity=".55"/>
<rect x="1249.8" y="92.6" width="9.5" height=".8" fill="#dfe8fb" opacity=".6"/>
<polygon points="1263.5,135.15 1269.6999999999998,135.15 1266.6,138.85" fill="#fff" opacity=".8"/><polygon points="1263.5,134.15 1269.6999999999998,134.15 1266.6,137.85" fill="#3a62b0"/>
</svg>
<div class="a" style="left:2px;top:166px;width:1276px;height:2px;background:#e4f5fe;border-radius:0 0 3px 3px"></div>
<div class="a" style="left:0;top:168px;width:1280px;height:3px;background:linear-gradient(#a6bcde,#b6ccea)"></div>
<div class="a" style="left:0;top:171px;width:1280px;height:1px;background:#5d86b8"></div>
<div class="a" style="left:0;top:172px;width:1280px;height:24px;background:#fff"></div>
<div class="a" style="left:0;top:196px;width:1280px;height:1px;background:#6a8fc0"></div>
<div class="a" style="left:0;top:197px;width:1280px;height:3px;background:linear-gradient(#f4f8fd 0,#f4f8fd 1px,#dbe7f7 1px)"></div>
<div class="a" style="left:0;top:200px;width:1280px;height:1px;background:#7c9fd0"></div>
<div class="a" style="left:0;top:171px;width:1px;height:30px;background:#5d86b8"></div>
<div class="a" style="left:1279px;top:171px;width:1px;height:30px;background:#5d86b8"></div>
<div class="a" style="left:181px;top:171px;width:101px;height:26px;border:1px solid #6f93c4;border-right-color:#7c9cc8;border-radius:12px 0 0 12px;background:linear-gradient(#fafcfe 0,#dde7f6 42%,#a5bfe4 100%)"></div>
<div class="a" style="left:187.5px;top:179.5px;width:8.5px;height:8.5px;border-radius:50%;background:radial-gradient(circle at 40% 40%,#d8d8d8 0,#a8a8a8 70%,#c4c4c4 100%)"></div>
<span class="t" style="left:261px;top:175px;font-family:'Liberation Serif',serif;font-style:italic;font-weight:bold;font-size:16px;color:#5a5a5a;letter-spacing:-1px;color:#666">f<span style="font-size:13px">x</span></span>
<svg style="left:165px;top:182px" width="9" height="5" viewBox="0 0 9 5"><polygon points="0,0 9,0 4.5,4.6" fill="#000"/></svg>
<div class="a" style="left:1260px;top:172px;width:20px;height:24px;border:1px solid #7b9ccc;background:linear-gradient(#fafcfe 0,#dfe9f7 50%,#a8c0e4 100%)"></div>
<svg style="left:1264px;top:178px" width="12" height="13" viewBox="0 0 12 13"><path d="M1 1.2 H3.2 L6 4.4 L8.8 1.2 H11 M1 7.2 H3.2 L6 10.4 L8.8 7.2 H11" fill="none" stroke="#000" stroke-width="1.8" stroke-linejoin="miter"/></svg>
<div class="a" style="left:0;top:201px;width:1257px;height:741px;background:#a4c2ea"></div>
<div class="a" style="left:93px;top:201px;width:1070px;height:741px;background:#fff"></div>
<div class="a" style="left:100px;top:201px;width:1057px;height:738px;border:1px solid #848484;border-top:none;background:#fff"></div>
<div class="a" style="left:1257px;top:201px;width:19px;height:742px;background:linear-gradient(90deg,#90aad0 0,#7b9ac8 4px,#7998c6 100%)"></div>
<div class="a" style="left:1276px;top:201px;width:4px;height:762px;background:#b4cdf0"></div>
<div class="a" style="left:1257px;top:201px;width:19px;height:20px;border:1px solid #5f7fb0;border-radius:2px;background:linear-gradient(90deg,#e4e8ee 0,#dde2ea 45%,#c2ccdb 50%,#ccd5e2 100%);box-shadow:inset 0 0 0 1px rgba(255,255,255,.7)"></div>
<svg style="left:1261px;top:208px" width="11" height="6" viewBox="0 0 11 6"><polygon points="0,6 11,6 5.5,0" fill="#3f4f78"/></svg>
<div class="a" style="left:1257px;top:923px;width:19px;height:20px;border:1px solid #5f7fb0;border-radius:2px;background:linear-gradient(90deg,#e4e8ee 0,#dde2ea 45%,#c2ccdb 50%,#ccd5e2 100%);box-shadow:inset 0 0 0 1px rgba(255,255,255,.7)"></div>
<svg style="left:1261px;top:930px" width="11" height="6" viewBox="0 0 11 6"><polygon points="0,0 11,0 5.5,6" fill="#3f4f78"/></svg>
<div class="a" style="left:1257px;top:276px;width:19px;height:601px;border:1px solid #3f6fb5;border-radius:2px;background:linear-gradient(90deg,#fff 0,#fff 1px,#c6daf5 1px,#c6daf5 8px,#a9c9f5 8px,#a9c9f5 15px,#e8f0fb 15px,#fff 17px)"></div>
<div class="a" style="left:1263px;top:573px;width:8px;height:1px;background:#787878"></div>
<div class="a" style="left:1263px;top:575px;width:8px;height:1px;background:#787878"></div>
<div class="a" style="left:1263px;top:577px;width:8px;height:1px;background:#787878"></div>
<div class="a" style="left:1263px;top:579px;width:8px;height:1px;background:#787878"></div>
<svg style="left:0;top:0" width="1280" height="993" viewBox="0 0 1280 993">
<line x1="187" y1="260.5" x2="1025" y2="260.5" stroke="#868686" stroke-width="1"/>
<line x1="187" y1="358.5" x2="1025" y2="358.5" stroke="#868686" stroke-width="1"/>
<line x1="187" y1="456.5" x2="1025" y2="456.5" stroke="#868686" stroke-width="1"/>
<line x1="187" y1="553.5" x2="1025" y2="553.5" stroke="#868686" stroke-width="1"/>
<line x1="187" y1="651.5" x2="1025" y2="651.5" stroke="#868686" stroke-width="1"/>
<line x1="187" y1="749.5" x2="1025" y2="749.5" stroke="#868686" stroke-width="1"/>
<line x1="187" y1="847.5" x2="1025" y2="847.5" stroke="#868686" stroke-width="1"/>
<line x1="193" y1="260" x2="193" y2="855" stroke="#868686" stroke-width="1"/>
<line x1="331.5" y1="847" x2="331.5" y2="855" stroke="#868686" stroke-width="1"/>
<line x1="470.5" y1="847" x2="470.5" y2="855" stroke="#868686" stroke-width="1"/>
<line x1="608.5" y1="847" x2="608.5" y2="855" stroke="#868686" stroke-width="1"/>
<line x1="747.5" y1="847" x2="747.5" y2="855" stroke="#868686" stroke-width="1"/>
<line x1="885.5" y1="847" x2="885.5" y2="855" stroke="#868686" stroke-width="1"/>
<line x1="1024.5" y1="847" x2="1024.5" y2="855" stroke="#868686" stroke-width="1"/>
<polyline points="262,354.4 400.75,359.4 539.25,385.6 678,389.6 816.25,411.4 955,746.2" fill="none" stroke="#4a7ebb" stroke-width="3" stroke-linejoin="round" stroke-linecap="round"/>
<polygon points="256.3,354.4 262,348.7 267.7,354.4 262,360.09999999999997" fill="#4f81bd"/>
<polygon points="395.05,359.4 400.75,353.7 406.45,359.4 400.75,365.09999999999997" fill="#4f81bd"/>
<polygon points="533.55,385.6 539.25,379.90000000000003 544.95,385.6 539.25,391.3" fill="#4f81bd"/>
<polygon points="672.3,389.6 678,383.90000000000003 683.7,389.6 678,395.3" fill="#4f81bd"/>
<polygon points="810.55,411.4 816.25,405.7 821.95,411.4 816.25,417.09999999999997" fill="#4f81bd"/>
<polygon points="949.3,746.2 955,740.5 960.7,746.2 955,751.9000000000001" fill="#4f81bd"/>
<polyline points="262,343 400.75,375 539.25,399.5 678,400 816.25,396.3 955,622.7" fill="none" stroke="#be4b48" stroke-width="3" stroke-linejoin="round" stroke-linecap="round"/>
<rect x="256.2" y="337.2" width="11.6" height="11.6" fill="#c0504d"/>
<rect x="394.95" y="369.2" width="11.6" height="11.6" fill="#c0504d"/>
<rect x="533.4499999999999" y="393.7" width="11.6" height="11.6" fill="#c0504d"/>
<rect x="672.1999999999999" y="394.2" width="11.6" height="11.6" fill="#c0504d"/>
<rect x="810.4499999999999" y="390.5" width="11.6" height="11.6" fill="#c0504d"/>
<rect x="949.1999999999999" y="616.9" width="11.6" height="11.6" fill="#c0504d"/>
<polyline points="262,371 400.75,407.5 539.25,430 678,442.5 816.25,418.8 955,430.8" fill="none" stroke="#98b954" stroke-width="3" stroke-linejoin="round" stroke-linecap="round"/>
<polygon points="256.1,376.9 267.9,376.9 262,365.3" fill="#9bbb59"/>
<polygon points="394.85,413.4 406.65,413.4 400.75,401.8" fill="#9bbb59"/>
<polygon points="533.3499999999999,435.9 545.1500000000001,435.9 539.25,424.3" fill="#9bbb59"/>
<polygon points="672.0999999999999,448.4 683.9000000000001,448.4 678,436.8" fill="#9bbb59"/>
<polygon points="810.3499999999999,424.7 822.1500000000001,424.7 816.25,413.1" fill="#9bbb59"/>
<polygon points="949.0999999999999,436.7 960.9000000000001,436.7 955,425.1" fill="#9bbb59"/>
<polyline points="262,369.2 400.75,405.7 539.25,428 678,439.5 816.25,418 955,449.4" fill="none" stroke="#7d60a0" stroke-width="3" stroke-linejoin="round" stroke-linecap="round"/>
<path d="M256.3 363.5 L267.7 374.9 M267.7 363.5 L256.3 374.9" stroke="#8064a2" stroke-width=".9" fill="none"/>
<path d="M395.05 400.0 L406.45 411.4 M406.45 400.0 L395.05 411.4" stroke="#8064a2" stroke-width=".9" fill="none"/>
<path d="M533.55 422.3 L544.95 433.7 M544.95 422.3 L533.55 433.7" stroke="#8064a2" stroke-width=".9" fill="none"/>
<path d="M672.3 433.8 L683.7 445.2 M683.7 433.8 L672.3 445.2" stroke="#8064a2" stroke-width=".9" fill="none"/>
<path d="M810.55 412.3 L821.95 423.7 M821.95 412.3 L810.55 423.7" stroke="#8064a2" stroke-width=".9" fill="none"/>
<path d="M949.3 443.7 L960.7 455.09999999999997 M960.7 443.7 L949.3 455.09999999999997" stroke="#8064a2" stroke-width=".9" fill="none"/>
<line x1="1060.5" y1="540.3" x2="1090.5" y2="540.3" stroke="#4a7ebb" stroke-width="3" stroke-linecap="round"/>
<polygon points="1071.2,540.3 1076,535.5 1080.8,540.3 1076,545.0999999999999" fill="#4f81bd"/>
<line x1="1060.5" y1="568.0" x2="1090.5" y2="568.0" stroke="#be4b48" stroke-width="3" stroke-linecap="round"/>
<rect x="1071.1000000000001" y="563.1" width="9.799999999999999" height="9.799999999999999" fill="#c0504d"/>
<line x1="1060.5" y1="595.6999999999999" x2="1090.5" y2="595.6999999999999" stroke="#98b954" stroke-width="3" stroke-linecap="round"/>
<polygon points="1071.0,600.6999999999999 1081.0,600.6999999999999 1076,590.9" fill="#9bbb59"/>
<line x1="1060.5" y1="623.4" x2="1090.5" y2="623.4" stroke="#7d60a0" stroke-width="3" stroke-linecap="round"/>
<path d="M1071.2 618.6 L1080.8 628.1999999999999 M1080.8 618.6 L1071.2 628.1999999999999" stroke="#8064a2" stroke-width=".9" fill="none"/>
</svg>
<span class="t" style="left:454.75px;top:212.17px;font-size:25.2px;color:#000;font-weight:bold;transform:scaleX(0.9440);transform-origin:0 0;">Response Rates by Ownership</span>
<span class="t" style="left:119.59px;top:253.13px;font-size:15.8px;color:#000;transform:scaleX(1.1059);transform-origin:0 0;">100.0%</span>
<span class="t" style="left:129.62px;top:351.13px;font-size:15.8px;color:#000;transform:scaleX(1.1004);transform-origin:0 0;">95.0%</span>
<span class="t" style="left:129.62px;top:449.13px;font-size:15.8px;color:#000;transform:scaleX(1.1004);transform-origin:0 0;">90.0%</span>
<span class="t" style="left:129.71px;top:546.13px;font-size:15.8px;color:#000;transform:scaleX(1.0984);transform-origin:0 0;">85.0%</span>
<span class="t" style="left:129.71px;top:644.13px;font-size:15.8px;color:#000;transform:scaleX(1.0984);transform-origin:0 0;">80.0%</span>
<span class="t" style="left:129.53px;top:742.13px;font-size:15.8px;color:#000;transform:scaleX(1.1024);transform-origin:0 0;">75.0%</span>
<span class="t" style="left:129.53px;top:840.13px;font-size:15.8px;color:#000;transform:scaleX(1.1024);transform-origin:0 0;">70.0%</span>
<span class="t" style="left:239.60px;top:872.16px;font-size:19.3px;color:#000;transform:scaleX(1.0387);transform-origin:0 0;">2003</span>
<span class="t" style="left:378.60px;top:872.16px;font-size:19.3px;color:#000;transform:scaleX(1.0314);transform-origin:0 0;">2004</span>
<span class="t" style="left:517.10px;top:872.16px;font-size:19.3px;color:#000;transform:scaleX(1.0387);transform-origin:0 0;">2005</span>
<span class="t" style="left:655.60px;top:872.16px;font-size:19.3px;color:#000;transform:scaleX(1.0387);transform-origin:0 0;">2006</span>
<span class="t" style="left:794.09px;top:872.16px;font-size:19.3px;color:#000;transform:scaleX(1.0436);transform-origin:0 0;">2007</span>
<span class="t" style="left:932.60px;top:872.16px;font-size:19.3px;color:#000;transform:scaleX(1.0387);transform-origin:0 0;">2008</span>
<span class="t" style="left:589.72px;top:911.18px;font-size:19.4px;color:#000;font-weight:bold;transform:scaleX(0.9568);transform-origin:0 0;">Year</span>
<span class="t" style="left:123.2px;top:622.6px;font-size:19.4px;font-weight:bold;color:#000;transform-origin:0 0;transform:rotate(-90deg) scaleX(0.9314) translateY(-16.42px)">Response Rates</span>
<span class="t" style="left:1093.76px;top:534.24px;font-size:13.3px;color:#000;transform:scaleX(1.0727);transform-origin:0 0;">State</span>
<span class="t" style="left:1093.24px;top:561.84px;font-size:13.3px;color:#000;transform:scaleX(1.0918);transform-origin:0 0;">Local</span>
<span class="t" style="left:1093.20px;top:589.44px;font-size:13.3px;color:#000;transform:scaleX(1.1266);transform-origin:0 0;">Private</span>
<span class="t" style="left:1094.40px;top:617.04px;font-size:13.3px;color:#000;transform:scaleX(1.1440);transform-origin:0 0;">All</span>
<div class="a" style="left:0;top:942px;width:758px;height:19px;background:linear-gradient(#d9e6f8 0,#cfdff5 9px,#bdd3f1 10px,#c6d9f3 100%)"></div>
<div class="a" style="left:0;top:942px;width:1280px;height:1px;background:#8fabd6"></div>
<div class="a" style="left:758px;top:943px;width:499px;height:18px;background:linear-gradient(#8ba6cf 0,#7998c6 4px,#7998c6 100%)"></div>
<div class="a" style="left:1257px;top:943px;width:19px;height:20px;background:#7a9ed6"></div>
<div class="a" style="left:781px;top:944px;width:455px;height:17px;border:1px solid #5f7fb0;border-radius:2px;background:linear-gradient(#f0f2f5 0,#e6eaf0 45%,#c6cfdc 50%,#d3dbe6 100%);box-shadow:inset 0 0 0 1px rgba(255,255,255,.7)"></div>
<div class="a" style="left:1003px;top:949px;width:1px;height:7px;background:#7f8792"></div>
<div class="a" style="left:1005px;top:949px;width:1px;height:7px;background:#7f8792"></div>
<div class="a" style="left:1007px;top:949px;width:1px;height:7px;background:#7f8792"></div>
<div class="a" style="left:1009px;top:949px;width:1px;height:7px;background:#7f8792"></div>
<div class="a" style="left:1011px;top:949px;width:1px;height:7px;background:#7f8792"></div>
<div class="a" style="left:1013px;top:949px;width:1px;height:7px;background:#7f8792"></div>
<svg style="left:0;top:940px" width="1280" height="26" viewBox="0 940 1280 26">
<defs><linearGradient id="at" x1="0" y1="0" x2="0" y2="1"><stop offset="0" stop-color="#ffffff"/><stop offset="1" stop-color="#dbe7f8"/></linearGradient></defs>
<path d="M379 962 V944.5 Q379 942.5 381 942.5 H482 L468 962 Z" fill="url(#at)"/>
<path d="M79 961 V944.5 Q79 942.8 81 942.8" fill="none" stroke="#8ea6cc" stroke-width="1"/>
<path d="M80 961 V945" fill="none" stroke="#fff" stroke-width="1" opacity=".8"/>
<path d="M112.7 961 L126.9 942.8" stroke="#8ea6cc" stroke-width="1.1"/>
<path d="M113.9 961 L128.1 942.8" stroke="#fff" stroke-width="1" opacity=".85"/>
<path d="M112.5 961 L115.3 957.2 L116.10000000000001 961 Z" fill="#7b97c4"/>
<path d="M187.9 961 L202.1 942.8" stroke="#8ea6cc" stroke-width="1.1"/>
<path d="M189.1 961 L203.29999999999998 942.8" stroke="#fff" stroke-width="1" opacity=".85"/>
<path d="M187.70000000000002 961 L190.5 957.2 L191.3 961 Z" fill="#7b97c4"/>
<path d="M236.6 961 L250.79999999999998 942.8" stroke="#8ea6cc" stroke-width="1.1"/>
<path d="M237.79999999999998 961 L251.99999999999997 942.8" stroke="#fff" stroke-width="1" opacity=".85"/>
<path d="M236.4 961 L239.2 957.2 L240.0 961 Z" fill="#7b97c4"/>
<path d="M326.4 961 L340.59999999999997 942.8" stroke="#8ea6cc" stroke-width="1.1"/>
<path d="M327.59999999999997 961 L341.79999999999995 942.8" stroke="#fff" stroke-width="1" opacity=".85"/>
<path d="M326.2 961 L329.0 957.2 L329.79999999999995 961 Z" fill="#7b97c4"/>
<path d="M467.5 961 L481.7 942.8" stroke="#8ea6cc" stroke-width="1.1"/>
<path d="M468.7 961 L482.9 942.8" stroke="#fff" stroke-width="1" opacity=".85"/>
<path d="M467.3 961 L470.1 957.2 L470.9 961 Z" fill="#7b97c4"/>
<path d="M531.7 961 L545.9000000000001 942.8" stroke="#8ea6cc" stroke-width="1.1"/>
<path d="M532.9000000000001 961 L547.1000000000001 942.8" stroke="#fff" stroke-width="1" opacity=".85"/>
<path d="M531.5 961 L534.3000000000001 957.2 L535.1 961 Z" fill="#7b97c4"/>
<path d="M637.4 961 L651.6 942.8" stroke="#8ea6cc" stroke-width="1.1"/>
<path d="M638.6 961 L652.8000000000001 942.8" stroke="#fff" stroke-width="1" opacity=".85"/>
<path d="M637.1999999999999 961 L640.0 957.2 L640.8 961 Z" fill="#7b97c4"/>
<path d="M378.5 961 V944.5 Q378.5 942.8 380.5 942.8" fill="none" stroke="#8ea6cc" stroke-width="1"/>
<path d="M753.5 961 V944.5 Q753.5 942.8 751.5 942.8" fill="none" stroke="#8ea6cc" stroke-width="1"/>
<rect x="754.5" y="944" width="3.5" height="17" fill="#eef3fa" stroke="#8ea6cc" stroke-width=".6"/>
<rect x="7" y="947" width="1.6" height="9" fill="#1e3f8f"/><polygon points="14.4,947 14.4,956 9,951.5" fill="#1e3f8f"/>
<polygon points="32.2,947 32.2,956 26.6,951.5" fill="#1e3f8f"/>
<polygon points="44.8,947 44.8,956 50.4,951.5" fill="#1e3f8f"/>
<polygon points="63,947 63,956 68.4,951.5" fill="#1e3f8f"/><rect x="68.8" y="947" width="1.6" height="9" fill="#1e3f8f"/>
<polygon points="773.4,946 773.4,958 767,952" fill="#3f4f78"/><polygon points="1243,946 1243,958 1250.2,952" fill="#3f4f78"/>
</svg>
<div class="a" style="left:0;top:960px;width:758px;height:1px;background:rgba(255,255,255,.85)"></div>
<div class="a" style="left:0;top:961px;width:1280px;height:2px;background:#5079b0"></div>
<div class="a" style="left:0;top:963px;width:1280px;height:1px;background:#f4f8fd"></div>
<span class="t" style="left:91.40px;top:945.03px;font-size:15.2px;color:#1b3e8c;transform:scaleX(0.8310);transform-origin:0 0;">All</span>
<span class="t" style="left:130.40px;top:945.03px;font-size:15.2px;color:#1b3e8c;transform:scaleX(0.8877);transform-origin:0 0;">AllChart</span>
<span class="t" style="left:203.41px;top:945.03px;font-size:15.2px;color:#1b3e8c;transform:scaleX(0.8666);transform-origin:0 0;">Size</span>
<span class="t" style="left:254.28px;top:945.03px;font-size:15.2px;color:#1b3e8c;transform:scaleX(0.9110);transform-origin:0 0;">SizeChart</span>
<span class="t" style="left:339.95px;top:945.03px;font-size:15.2px;color:#1b3e8c;transform:scaleX(0.9447);transform-origin:0 0;">Own</span>
<span class="t" style="left:482.76px;top:945.03px;font-size:15.2px;color:#1b3e8c;transform:scaleX(0.9369);transform-origin:0 0;">Sector</span>
<span class="t" style="left:550.35px;top:945.03px;font-size:15.2px;color:#1b3e8c;transform:scaleX(0.9436);transform-origin:0 0;">SectorChart</span>
<span class="t" style="left:657.25px;top:945.03px;font-size:15.2px;color:#1b3e8c;transform:scaleX(0.9491);transform-origin:0 0;">SectorChart2</span>
<span class="t" style="left:388.17px;top:945.03px;font-size:15.2px;color:#1b3e8c;font-weight:bold;transform:scaleX(1.0345);transform-origin:0 0;">OwnChart</span>
<div class="a" style="left:0;top:964px;width:1280px;height:25px;background:linear-gradient(#d6e4f8 0,#c0d7f5 8px,#abc9f2 8px,#c5daf5 100%)"></div>
<div class="a" style="left:984px;top:964px;width:296px;height:25px;background:linear-gradient(#a9c6f0 0,#9dbdec 8px,#86a9de 9px,#7ea3d9 17px,#9dbbe6 100%)"></div>
<div class="a" style="left:982px;top:964px;width:1px;height:25px;background:#6f93c8"></div><div class="a" style="left:983px;top:964px;width:1px;height:25px;background:#dce8f8"></div>
<div class="a" style="left:0;top:989px;width:1280px;height:2px;background:#e9eff8"></div>
<div class="a" style="left:0;top:991px;width:1280px;height:2px;background:#9c9ab0"></div>
<span class="t" style="left:5.98px;top:970.23px;font-size:12.6px;color:#1b3e8c;transform:scaleX(1.0168);transform-origin:0 0;">Ready</span>
<div class="a" style="left:51px;top:965px;width:1px;height:20px;background:linear-gradient(#6f93c8,#a8c0e4)"></div><div class="a" style="left:52px;top:965px;width:1px;height:20px;background:rgba(255,255,255,.7)"></div>
<div class="a" style="left:989px;top:964px;width:69px;height:23px;border:1px solid #b8b8b8;border-radius:3px;background:linear-gradient(#eeeeee 0,#e0e0e0 50%,#c8c8c8 100%)"></div>
<div class="a" style="left:1012px;top:965px;width:1px;height:21px;background:#bdbdbd"></div><div class="a" style="left:1034px;top:965px;width:1px;height:21px;background:#bdbdbd"></div>
<svg style="left:980px;top:960px" width="300" height="33" viewBox="980 960 300 33">
<defs><radialGradient id="zb" cx="50%" cy="30%" r="75%"><stop offset="0" stop-color="#ffffff"/><stop offset=".6" stop-color="#dbe6f5"/><stop offset="1" stop-color="#a9c0e2"/></radialGradient></defs>
<rect x="993.6" y="969.6" width="15" height="12" fill="#f6f6f6" stroke="#4c4c4c" stroke-width="1.2"/><path d="M993.6 973.6 H1008.6 M993.6 977.6 H1008.6 M998.6 969.6 V981.6 M1003.6 969.6 V981.6" stroke="#4c4c4c" stroke-width="1.1"/>
<rect x="1015.4" y="968.8" width="15" height="13.6" fill="#a6a6a6" stroke="#5a5a5a" stroke-width="1"/><rect x="1019" y="971.2" width="7.6" height="9" fill="#f4f4f4" stroke="#6a6a6a" stroke-width=".7"/><path d="M1020.6 974 H1025 M1020.6 976 H1025 M1020.6 978 H1025" stroke="#999" stroke-width=".7"/>
<rect x="1039" y="968.8" width="15.6" height="13.6" fill="#9c9c9c" stroke="#5a5a5a" stroke-width="1"/><rect x="1040.6" y="970.2" width="5" height="7.6" fill="#f8f8f8"/><rect x="1047" y="970.2" width="5" height="7.6" fill="#f8f8f8"/>
<circle cx="1118.3" cy="974.9" r="9.3" fill="url(#zb)" stroke="#5f82b8" stroke-width="1"/><rect x="1113.4" y="974" width="9.8" height="2" fill="#4a4a4a"/>
<circle cx="1264.8" cy="974.9" r="9.3" fill="url(#zb)" stroke="#5f82b8" stroke-width="1"/><rect x="1259.8" y="974" width="10" height="2" fill="#4a4a4a"/><rect x="1263.8" y="970" width="2" height="10" fill="#4a4a4a"/>
<rect x="1128" y="975.4" width="127" height="1" fill="#6e8fc2"/><rect x="1128" y="976.4" width="127" height="1" fill="#e4ebf5"/>
<path d="M1181.2 967.6 H1191.2 V977.6 L1186.2 982.6 L1181.2 977.6 Z" fill="#e9eff8" stroke="#5a7cb0" stroke-width="1"/><path d="M1186.2 970.4 V978.4" stroke="#8fa6c8" stroke-width="1.2"/>
</svg>
<span class="t" style="left:1066.12px;top:970.26px;font-size:12.8px;color:#1b3e8c;">93%</span>
</body></html>
